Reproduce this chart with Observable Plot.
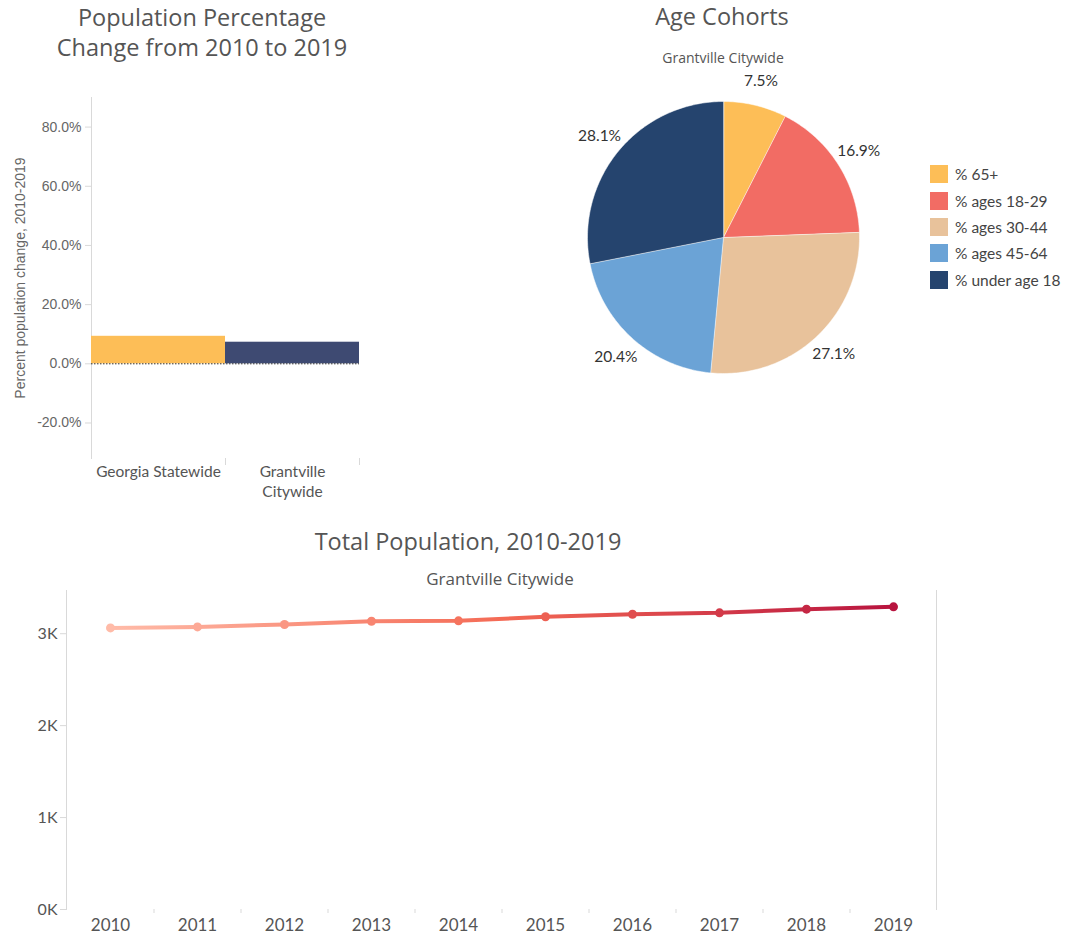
<!DOCTYPE html>
<html>
<head>
<meta charset="utf-8">
<script src="https://cdn.jsdelivr.net/npm/d3@7"></script>
<script src="https://cdn.jsdelivr.net/npm/@observablehq/plot@0.6"></script>
<style>
  html, body { margin: 0; padding: 0; background: #fff; }
  #page { position: relative; width: 1073px; height: 943px; overflow: hidden; background: #fff; }
  .abs { position: absolute; }
  .title { position: absolute; font-family: "Open Sans", sans-serif; font-size: 23.5px; color: #555; text-align: center; line-height: 30px; }
  .subtitle { position: absolute; font-family: "Open Sans", sans-serif; color: #555; text-align: center; }
  #legend { position: absolute; left: 930px; top: 161px; font-family: "Lato", sans-serif; font-size: 15.5px; color: #444; }
  .lrow { display: flex; align-items: center; height: 26.4px; }
  .sw { width: 18px; height: 18px; margin-right: 7px; flex: none; }
</style>
</head>
<body>
<div id="page">
  <div class="title" style="left:0;top:2px;width:404px;">Population Percentage<br>Change from 2010 to 2019</div>
  <div class="title" style="left:522px;top:1px;width:400px;">Age Cohorts</div>
  <div class="subtitle" style="left:523px;top:49px;width:400px;font-size:14px;line-height:18px;">Grantville Citywide</div>
  <div class="title" style="left:268px;top:526px;width:400px;">Total Population, 2010-2019</div>
  <div class="subtitle" style="left:300px;top:568px;width:400px;font-size:17px;line-height:22px;">Grantville Citywide</div>
  <div id="bar" class="abs" style="left:0;top:85px;"></div>
  <div id="pie" class="abs" style="left:553px;top:67px;"></div>
  <div id="legend"></div>
  <div id="line" class="abs" style="left:0;top:585px;"></div>
</div>
<script>
// ---- Data ----
const barCategories = ["Georgia Statewide", "Grantville Citywide"];
const barLabels = ["Georgia Statewide", "Grantville\nCitywide"];
const barValues = [9.3, 7.3];
const barColors = ["#FDBE57", "#3E4A72"];
const barTicks = [-20, 0, 20, 40, 60, 80];

const cohorts = ["% 65+", "% ages 18-29", "% ages 30-44", "% ages 45-64", "% under age 18"];
const cohortShares = [7.5, 16.9, 27.1, 20.4, 28.1];
const cohortColors = ["#FDBE57", "#F26C64", "#E8C29B", "#6BA3D6", "#25446E"];

const years = [2010, 2011, 2012, 2013, 2014, 2015, 2016, 2017, 2018, 2019];
const population = [3063, 3074, 3100, 3136, 3140, 3185, 3212, 3227, 3267, 3292];
const popTicks = [0, 1000, 2000, 3000];
const lineColors = ["#FFBBA8", "#F46A55", "#B8143F"];

// ---- Bar chart ----
const barData = barCategories.map((c, i) => ({cat: c, value: barValues[i]}));
const barPlot = Plot.plot({
  width: 400, height: 420,
  marginLeft: 91, marginRight: 41, marginTop: 12, marginBottom: 47,
  style: {fontFamily: "Lato, sans-serif", background: "transparent"},
  x: {domain: barCategories, padding: 0, label: null},
  y: {domain: [-32, 90], label: null},
  color: {domain: barCategories, range: barColors},
  marks: [
    Plot.frame({anchor: "left", stroke: "#d9d9d9"}),
    Plot.barY(barData, {x: "cat", y: "value", fill: "cat"}),
    Plot.ruleY([0], {stroke: "#333", strokeDasharray: "1.5,1.5"}),
    Plot.axisY({ticks: barTicks, tickFormat: d => d.toFixed(1) + "%", tickSize: 6, tickPadding: 4,
      stroke: "#d9d9d9", fill: "#666", fontSize: 14, fontFamily: "Liberation Sans, Arial, sans-serif",
      label: "Percent population change, 2010-2019", labelAnchor: "center", labelArrow: "none", labelOffset: 76}),
    Plot.axisX({tickSize: 0, tickPadding: 4, fontSize: 15.5, lineHeight: 1.3, fill: "#555", label: null,
      tickFormat: d => barLabels[barCategories.indexOf(d)]}),
    Plot.axisX({tickSize: 7, text: null, stroke: "#d9d9d9", dx: (400 - 91 - 41) / barCategories.length / 2, label: null})
  ]
});
document.getElementById("bar").appendChild(barPlot);

// ---- Pie chart ----
const total = d3.sum(cohortShares);
const piePts = [];
const pieLabels = [];
let acc = 0;
cohorts.forEach((c, i) => {
  const a0 = acc / total * 360;
  acc += cohortShares[i];
  const a1 = acc / total * 360;
  piePts.push({c, x: 0, y: 0});
  const n = Math.max(2, Math.ceil(a1 - a0) + 1);
  for (let k = 0; k <= n; k++) {
    const a = (a0 + (a1 - a0) * k / n) * Math.PI / 180;
    piePts.push({c, x: Math.sin(a), y: Math.cos(a)});
  }
  const am = (a0 + a1) / 2 * Math.PI / 180;
  pieLabels.push({text: cohortShares[i].toFixed(1) + "%", x: 1.18 * Math.sin(am), y: 1.18 * Math.cos(am)});
});
const piePlot = Plot.plot({
  width: 340, height: 340, margin: 0,
  style: {fontFamily: "Lato, sans-serif", background: "transparent", overflow: "visible"},
  x: {domain: [-1.25, 1.25], axis: null},
  y: {domain: [-1.25, 1.25], axis: null},
  color: {domain: cohorts, range: cohortColors},
  marks: [
    Plot.line(piePts, {x: "x", y: "y", z: "c", fill: "c", stroke: "white", strokeWidth: 0.5, curve: "linear-closed"}),
    Plot.text(pieLabels, {x: "x", y: "y", text: "text", fontSize: 15.5, fill: "#333"})
  ]
});
document.getElementById("pie").appendChild(piePlot);

// legend
const legend = document.getElementById("legend");
cohorts.forEach((c, i) => {
  const row = document.createElement("div");
  row.className = "lrow";
  const sw = document.createElement("div");
  sw.className = "sw";
  sw.style.background = cohortColors[i];
  const t = document.createElement("span");
  t.textContent = c;
  row.appendChild(sw); row.appendChild(t);
  legend.appendChild(row);
});

// ---- Line chart ----
const lineData = years.map((y, i) => ({year: y, pop: population[i]}));
const lw = 1073, lml = 66, lmr = 137;
const linePlot = Plot.plot({
  width: lw, height: 358,
  marginLeft: lml, marginRight: lmr, marginTop: 5, marginBottom: 34,
  style: {fontFamily: "Lato, sans-serif", background: "transparent"},
  x: {type: "point", domain: years, padding: 0.5, label: null},
  y: {domain: [0, 3470], label: null},
  color: {type: "linear", domain: [years[0], (years[0] + years[years.length - 1]) / 2, years[years.length - 1]], range: lineColors},
  marks: [
    Plot.frame({anchor: "left", stroke: "#d9d9d9"}),
    Plot.frame({anchor: "right", stroke: "#d9d9d9"}),
    Plot.axisY({ticks: popTicks, tickFormat: d => (d / 1000) + "K", tickSize: 6, tickPadding: 3,
      fontSize: 16, fill: "#555", stroke: "#d9d9d9", label: null}),
    Plot.axisX({tickSize: 0, tickPadding: 9, fontSize: 17, fill: "#555", label: null, tickFormat: d => String(d)}),
    Plot.axisX({ticks: years.slice(0, -1), tickSize: 4, text: null, stroke: "#d9d9d9", label: null,
      dx: (lw - lml - lmr) / years.length / 2}),
    Plot.line(lineData, {x: "year", y: "pop", stroke: "url(#popGrad)", strokeWidth: 4}),
    Plot.dot(lineData, {x: "year", y: "pop", fill: "year", r: 4.5})
  ]
});
const grad = d3.select(linePlot).insert("defs", ":first-child")
  .append("linearGradient").attr("id", "popGrad").attr("x1", "0").attr("x2", "1").attr("y1", "0").attr("y2", "0");
lineColors.forEach((col, i) => {
  grad.append("stop").attr("offset", i / (lineColors.length - 1)).attr("stop-color", col);
});
document.getElementById("line").appendChild(linePlot);
</script>
</body>
</html>
